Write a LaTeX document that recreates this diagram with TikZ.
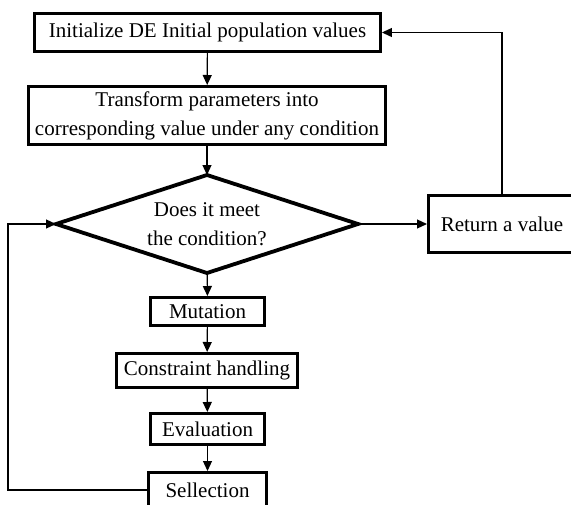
\documentclass[tikz,border=0pt]{standalone}
\usepackage{fontspec}
\setmainfont{Liberation Serif}
\usetikzlibrary{shapes.geometric,arrows.meta}
\begin{document}
\begin{tikzpicture}[x=1pt,y=-1pt,
  font=\fontsize{21}{29}\selectfont,
  stepbox/.style={draw, line width=3.4pt, inner sep=0pt, align=center},
  decision/.style={draw, diamond, shape aspect=3.08, line width=3.8pt, inner sep=0pt,
    outer sep=0pt, align=center, minimum width=302pt, minimum height=98pt},
  link/.style={line width=1.2pt, -{Triangle[length=10pt,width=9pt]}}]
\clip (0,0) rectangle (571,504);

% process steps
\node[stepbox, minimum width=345.5pt, minimum height=37.5pt] (init) at (207.5,32.5)
  {Initialize DE Initial population values};
\node[stepbox, minimum width=356.6pt, minimum height=57.6pt] (trans) at (207,115.5)
  {Transform parameters into\\corresponding value under any condition};
\node[decision] (dia) at (207,224) {Does it meet\\the condition?};
\node[stepbox, minimum width=146.6pt, minimum height=56.6pt] (ret) at (502,224)
  {Return a value};
\node[stepbox, minimum width=113.6pt, minimum height=27.6pt] (mut) at (207.5,311.5)
  {Mutation};
\node[stepbox, minimum width=180.6pt, minimum height=33.6pt] (cons) at (207,370.5)
  {Constraint handling};
\node[stepbox, minimum width=113.6pt, minimum height=30.6pt] (eval) at (207.5,429)
  {Evaluation};
\node[stepbox, minimum width=117.6pt, minimum height=34.6pt] (sel) at (207.5,490)
  {Sellection};
\coordinate (loop) at (8,490);

% main flow
\draw[link] (init) -- (trans);
\draw[link] (trans) -- (dia);
\draw[link] (dia) -- (mut);
\draw[link] (mut) -- (cons);
\draw[link] (cons) -- (eval);
\draw[link] (eval) -- (sel);
\draw[link] (dia.east) -- (ret.west);

% feedback paths
\draw[link] (ret.north) |- (init.east);
\draw[link] (sel.west) -- (loop) |- (dia.west);
\end{tikzpicture}
\end{document}
